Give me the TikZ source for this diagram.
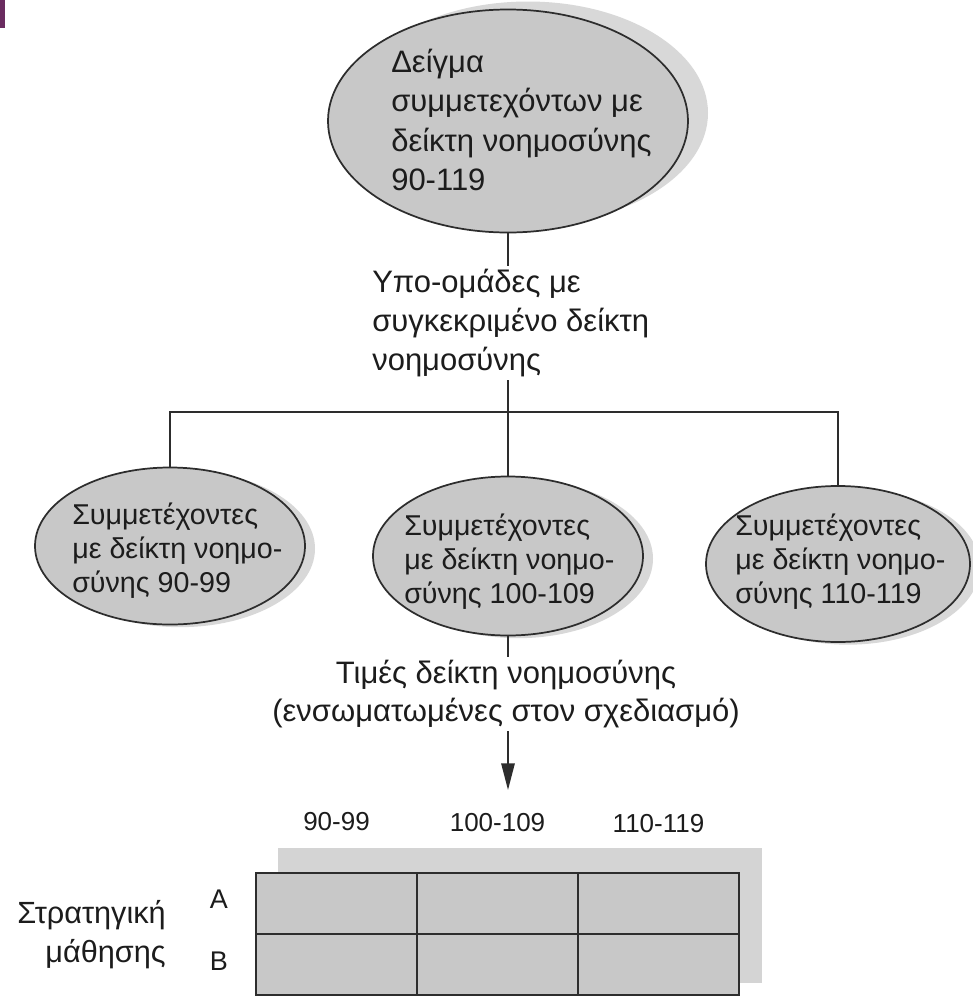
\documentclass[tikz,border=0pt]{standalone}
\usepackage{fontspec}
\setmainfont{Liberation Sans}
\usetikzlibrary{arrows.meta,shadows,shapes.geometric}
\definecolor{ellfill}{RGB}{200,200,200}
\definecolor{shadefill}{RGB}{216,216,216}
\definecolor{tabshade}{RGB}{212,212,212}
\definecolor{inkc}{RGB}{45,45,45}
\definecolor{textc}{RGB}{28,28,28}
\definecolor{markc}{RGB}{106,44,96}
\tikzset{
  ell/.style={ellipse, draw=inkc, line width=1.3pt, fill=ellfill, inner sep=0pt},
  smallshadow/.style={drop shadow={shadow xshift=7.5pt, shadow yshift=-2pt, fill=shadefill, opacity=1}},
  bigshadow/.style={drop shadow={shadow xshift=15pt, shadow yshift=6pt, fill=shadefill, opacity=1}},
  bigtxt/.style={font=\fontsize{23.25pt}{29.6pt}\selectfont, text=textc, inner sep=0pt},
  elltxt/.style={font=\fontsize{21.5pt}{25.5pt}\selectfont, text=textc, inner sep=0pt, align=left, anchor=west},
  collbl/.style={font=\fontsize{19.5pt}{23pt}\selectfont, text=textc, inner sep=0pt, anchor=base},
  rowlbl/.style={font=\fontsize{20.25pt}{29.25pt}\selectfont, text=textc, inner sep=0pt},
  cellbox/.style={rectangle, draw=inkc, line width=1.4pt, fill=ellfill, minimum width=120.75pt, minimum height=45.75pt, inner sep=0pt},
  link/.style={draw=inkc, line width=1.4pt}
}
\begin{document}
\begin{tikzpicture}[x=0.75pt,y=-0.75pt]
\useasboundingbox (0,0) rectangle (972,1000);
\fill[white] (0,0) rectangle (972,1000);
\fill[markc] (0,0) rectangle (5,28);

% top ellipse
\node[ell, bigshadow, minimum width=270pt, minimum height=167.25pt] (sample) at (508,121) {};
\node[bigtxt, align=left, anchor=west] (sampletxt) at (391,120)
  {Δείγμα\\συμμετεχόντων με\\δείκτη νοημοσύνης\\90-119};

% subgroup label
\node[bigtxt, font=\fontsize{23.25pt}{29.25pt}\selectfont, align=left, anchor=west, inner ysep=2.5pt] (subtxt) at (372,323)
  {Υπο-ομάδες με\\συγκεκριμένο δείκτη\\νοημοσύνης};

% three ellipses
\node[ell, smallshadow, minimum width=202.5pt, minimum height=117.75pt] (g1) at (170,546) {};
\node[ell, smallshadow, minimum width=202.5pt, minimum height=119.25pt] (g2) at (508,556) {};
\node[ell, smallshadow, minimum width=198pt, minimum height=117pt] (g3) at (838,564) {};
\node[elltxt] (g1txt) at (72,551) {Συμμετέχοντες\\με δείκτη νοημο-\\σύνης 90-99};
\node[elltxt] (g2txt) at (404,562) {Συμμετέχοντες\\με δείκτη νοημο-\\σύνης 100-109};
\node[elltxt] (g3txt) at (735,562) {Συμμετέχοντες\\με δείκτη νοημο-\\σύνης 110-119};

% values label
\node[bigtxt, font=\fontsize{23.25pt}{28.5pt}\selectfont, align=center, inner ysep=2.5pt] (valstxt) at (506,694)
  {Τιμές δείκτη νοημοσύνης\\(ενσωματωμένες στον σχεδιασμό)};

% connectors
\coordinate (hub) at (508,412);
\coordinate (tip) at (508,790);
\draw[link] (sample.south) -- (sample.south |- subtxt.north);
\draw[link] (sample.south |- subtxt.south) -- (hub);
\draw[link] (g1.north) |- (hub) -| (g3.north);
\draw[link] (hub) -- (g2.north);
\draw[link] (g2.south) -- (g2.south |- valstxt.north);
\draw[link, -{Triangle[length=20pt,width=10pt]}] (g2.south |- valstxt.south) -- (tip);

% column labels
\node[collbl] (c1) at (336.5,830) {90-99};
\node[collbl] (c2) at (497.5,831) {100-109};
\node[collbl] (c3) at (658.5,832) {110-119};

% table shadow and cells
\fill[tabshade] (278,848) rectangle (762,983);
\node[cellbox] (a1) at (336.5,903.5) {};
\node[cellbox] (a2) at (497.5,903.5) {};
\node[cellbox] (a3) at (658.5,903.5) {};
\node[cellbox] (b1) at (336.5,964.5) {};
\node[cellbox] (b2) at (497.5,964.5) {};
\node[cellbox] (b3) at (658.5,964.5) {};

% row labels
\node[rowlbl, anchor=base] (ra) at (219,908) {A};
\node[rowlbl, anchor=base] (rb) at (219,970) {B};
\node[rowlbl, font=\fontsize{23pt}{29.25pt}\selectfont, align=right, anchor=east] (strat) at (166,935) {Στρατηγική\\μάθησης};
\end{tikzpicture}
\end{document}
